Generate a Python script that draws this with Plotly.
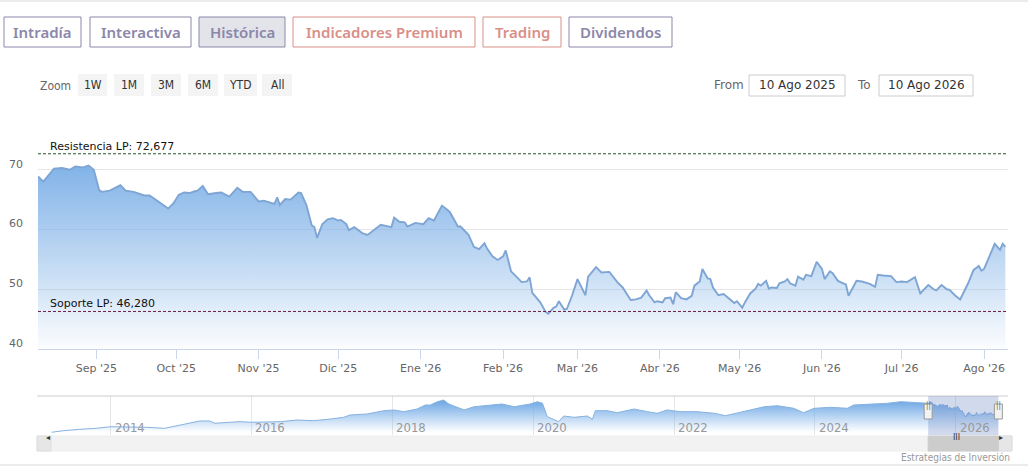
import plotly.graph_objects as go

# --- data --------------------------------------------------------------------
main_dates = ["2025-08-10", "2025-08-12", "2025-08-16", "2025-08-19", "2025-08-22", "2025-08-24", "2025-08-27", "2025-08-29", "2025-08-31",
              "2025-09-02", "2025-09-03", "2025-09-06", "2025-09-10", "2025-09-12", "2025-09-15", "2025-09-19", "2025-09-21", "2025-09-24", "2025-09-28", "2025-09-30",
              "2025-10-02", "2025-10-04", "2025-10-06", "2025-10-08", "2025-10-09", "2025-10-11", "2025-10-13", "2025-10-16", "2025-10-18", "2025-10-21", "2025-10-24", "2025-10-26", "2025-10-29",
              "2025-11-01", "2025-11-03", "2025-11-07", "2025-11-08", "2025-11-09", "2025-11-11", "2025-11-13", "2025-11-16", "2025-11-17", "2025-11-19", "2025-11-21", "2025-11-22", "2025-11-23", "2025-11-25", "2025-11-27", "2025-11-29",
              "2025-12-01", "2025-12-02", "2025-12-04", "2025-12-05", "2025-12-07", "2025-12-10", "2025-12-12", "2025-12-14", "2025-12-17", "2025-12-21", "2025-12-22", "2025-12-24", "2025-12-26", "2025-12-27", "2025-12-30",
              "2026-01-02", "2026-01-04", "2026-01-06", "2026-01-09", "2026-01-11", "2026-01-12", "2026-01-15", "2026-01-16", "2026-01-19", "2026-01-21", "2026-01-23", "2026-01-25", "2026-01-26", "2026-01-28", "2026-01-30",
              "2026-02-01", "2026-02-02", "2026-02-04", "2026-02-06", "2026-02-08", "2026-02-10", "2026-02-11", "2026-02-12", "2026-02-14", "2026-02-15", "2026-02-17", "2026-02-18", "2026-02-20", "2026-02-21", "2026-02-22", "2026-02-24", "2026-02-25", "2026-02-27",
              "2026-03-01", "2026-03-04", "2026-03-05", "2026-03-08", "2026-03-10", "2026-03-13", "2026-03-16", "2026-03-18", "2026-03-21", "2026-03-23", "2026-03-25", "2026-03-27", "2026-03-28", "2026-03-30", "2026-03-31",
              "2026-04-02", "2026-04-03", "2026-04-05", "2026-04-06", "2026-04-07", "2026-04-09", "2026-04-11", "2026-04-13", "2026-04-14", "2026-04-16", "2026-04-17", "2026-04-19", "2026-04-20", "2026-04-21", "2026-04-23", "2026-04-25", "2026-04-27", "2026-04-29", "2026-04-30",
              "2026-05-02", "2026-05-03", "2026-05-05", "2026-05-07", "2026-05-08", "2026-05-09", "2026-05-11", "2026-05-12", "2026-05-13", "2026-05-15", "2026-05-16", "2026-05-18", "2026-05-19", "2026-05-20", "2026-05-22", "2026-05-23", "2026-05-25", "2026-05-26", "2026-05-28", "2026-05-30",
              "2026-06-01", "2026-06-02", "2026-06-04", "2026-06-05", "2026-06-07", "2026-06-09", "2026-06-10", "2026-06-11", "2026-06-14", "2026-06-16", "2026-06-19", "2026-06-21", "2026-06-22", "2026-06-24", "2026-06-27", "2026-06-29",
              "2026-07-01", "2026-07-03", "2026-07-06", "2026-07-08", "2026-07-11", "2026-07-13", "2026-07-14", "2026-07-16", "2026-07-18", "2026-07-19", "2026-07-21", "2026-07-23", "2026-07-26", "2026-07-28", "2026-07-30", "2026-07-31",
              "2026-08-01", "2026-08-03", "2026-08-05", "2026-08-07", "2026-08-08", "2026-08-09"]
main_values = [68.9, 68.0, 70.2, 70.3, 70.0, 70.55, 70.4, 70.7, 70.0,
               66.6, 66.3, 66.5, 67.4, 66.5, 66.3, 65.7, 65.7, 64.8, 63.5, 64.4,
               65.8, 66.2, 66.1, 66.4, 66.5, 67.3, 65.9, 66.1, 66.2, 65.5, 67.0, 66.3, 66.3,
               64.7, 64.8, 64.3, 65.4, 64.1, 65.1, 65.0, 66.2, 66.1, 64.1, 60.7, 60.4, 58.6, 60.9, 61.7, 61.9,
               61.5, 61.6, 60.9, 59.9, 60.4, 59.4, 59.1, 59.8, 60.8, 60.4, 62.0, 61.3, 61.2, 60.5, 61.1,
               60.9, 61.9, 61.5, 64.0, 63.3, 62.9, 60.5, 60.5, 59.1, 57.1, 56.7, 57.7, 56.8, 55.5, 54.9,
               55.5, 56.5, 53.0, 52.1, 51.2, 51.3, 52.0, 49.4, 48.2, 47.8, 46.2, 45.9, 46.9, 47.1, 48.0, 46.6, 46.7, 49.0,
               51.7, 49.0, 52.1, 53.7, 52.8, 52.9, 51.2, 50.3, 48.2, 48.3, 48.6, 49.8, 49.0, 47.8, 48.0,
               47.8, 48.5, 48.6, 47.5, 49.5, 48.5, 48.3, 48.9, 50.6, 51.3, 53.4, 51.8, 51.7, 50.3, 49.0, 49.2, 48.5, 47.7, 48.0,
               46.9, 47.8, 49.3, 50.1, 50.9, 50.6, 51.4, 50.1, 50.3, 50.2, 51.0, 51.3, 51.7, 51.0, 50.6, 52.1, 51.6, 52.4, 52.2, 54.6,
               53.4, 51.7, 53.0, 52.7, 51.4, 51.0, 50.8, 48.9, 51.4, 51.3, 50.9, 50.4, 52.4, 52.3, 52.2, 51.2,
               51.3, 51.2, 52.0, 49.3, 50.7, 50.0, 49.8, 50.7, 50.0, 49.9, 49.0, 48.3, 51.0, 53.2, 53.9, 53.1,
               53.4, 55.5, 57.6, 56.6, 57.6, 57.1]

# long history shown in the navigator
hist_dates = ["2013-03-01", "2013-05-01", "2013-07-23", "2013-10-20", "2014-01-01", "2014-04-08", "2014-07-05", "2014-10-08", "2014-12-28",
              "2015-04-08", "2015-05-30", "2015-06-25", "2015-09-13", "2015-11-03", "2016-01-01", "2016-03-03", "2016-05-30", "2016-08-25", "2016-11-17",
              "2017-02-13", "2017-04-23", "2017-05-26", "2017-08-22", "2017-11-18", "2018-01-08", "2018-02-28", "2018-05-08", "2018-06-21", "2018-07-16",
              "2018-08-22", "2018-09-24", "2018-10-20", "2018-11-25", "2019-01-08", "2019-02-28", "2019-05-08", "2019-07-23", "2019-09-24", "2019-12-16",
              "2020-01-23", "2020-02-18", "2020-03-14", "2020-04-16", "2020-05-12", "2020-06-07", "2020-07-31", "2020-10-08", "2020-11-03", "2020-11-18",
              "2021-01-19", "2021-03-11", "2021-06-07", "2021-08-15", "2021-10-05", "2021-11-25", "2022-02-03", "2022-05-01", "2022-07-27", "2022-09-24",
              "2023-01-15", "2023-04-13", "2023-06-21", "2023-09-13", "2023-11-03", "2023-12-28", "2024-03-21", "2024-06-17", "2024-07-20", "2024-11-03",
              "2025-01-11", "2025-03-21", "2025-05-30", "2025-07-20"]
hist_values = [19.9, 22.6, 24.9, 26.6, 29.3, 29.3, 28.3, 26.6, 32.2,
               39.0, 39.0, 35.1, 36.8, 37.8, 36.8, 36.8, 37.8, 40.6, 39.5,
               42.3, 45.2, 49.1, 50.8, 56.4, 57.6, 54.7, 59.2, 66.0, 66.0,
               71.6, 74.5, 67.7, 63.1, 57.6, 63.1, 64.8, 67.7, 63.1, 67.7,
               71.6, 68.9, 46.2, 41.8, 37.8, 47.4, 45.2, 47.4, 41.8, 56.4,
               56.4, 53.0, 59.2, 54.7, 52.0, 57.6, 54.7, 54.7, 52.0, 47.9,
               56.4, 63.1, 64.8, 60.4, 53.0, 60.4, 62.1, 60.4, 66.0, 67.2,
               68.9, 71.6, 69.9, 69.9]

resistencia = 72.677
soporte = 46.280

month_ticks = ["2025-09-01", "2025-10-01", "2025-11-01", "2025-12-01", "2026-01-01", "2026-02-01",
               "2026-03-01", "2026-04-01", "2026-05-01", "2026-06-01", "2026-07-01", "2026-08-01"]
month_labels = ["Sep '25", "Oct '25", "Nov '25", "Dic '25", "Ene '26", "Feb '26",
                "Mar '26", "Abr '26", "May '26", "Jun '26", "Jul '26", "Ago '26"]
y_ticks = [40, 50, 60, 70, 80]
y_labels = ["40", "50", "60", "70", ""]
year_ticks = ["2014-01-01", "2016-01-01", "2018-01-01", "2020-01-01", "2022-01-01", "2024-01-01", "2026-01-01"]
year_labels = ["2014", "2016", "2018", "2020", "2022", "2024", "2026"]

tab_labels = ["Intradía", "Interactiva", "Histórica", "Indicadores Premium", "Trading", "Dividendos"]
zoom_labels = ["1W", "1M", "3M", "6M", "YTD", "All"]
date_from = "10 Ago 2025"
date_to = "10 Ago 2026"

# --- helpers: pixel -> paper ---------------------------------------------------
W, H = 1028, 467
def fx(p):
    return p / W
def fy(p):
    return 1 - p / H

BLUE = "rgba(122,174,230,0.95)"
FADE = "rgba(122,174,230,0.03)"
VERDANA = "DejaVu Sans, Verdana, sans-serif"
NARROW = "DejaVu Sans Condensed, Liberation Sans Narrow, Roboto Condensed, Arial Narrow, sans-serif"

fig = go.Figure()

# main area series
fig.add_trace(go.Scatter(
    x=main_dates, y=main_values, mode="lines", fill="tozeroy",
    line=dict(color="#7ea5d3", width=1.9),
    fillgradient=dict(type="vertical", colorscale=[[0, FADE], [1, BLUE]], start=40, stop=71),
    hoverinfo="skip", showlegend=False, xaxis="x", yaxis="y"))

# navigator series (full history)
fig.add_trace(go.Scatter(
    x=hist_dates + main_dates, y=hist_values + main_values, mode="lines", fill="tozeroy",
    line=dict(color="#86b2e0", width=1),
    fillgradient=dict(type="vertical", colorscale=[[0, "rgba(124,178,234,0.0)"], [1, "rgba(118,172,230,1)"]], start=20, stop=70),
    hoverinfo="skip", showlegend=False, xaxis="x2", yaxis="y2"))

shapes = []
annotations = []

# resistance / support lines
for val, col, txt in [(resistencia, "#24542a", "Resistencia LP: 72,677"), (soporte, "#6e1f42", "Soporte LP: 46,280")]:
    shapes.append(dict(type="line", xref="x domain", yref="y", x0=0, x1=1, y0=val, y1=val,
                       line=dict(color=col, width=1, dash="3px,2px")))
    annotations.append(dict(xref="paper", yref="y", x=fx(48), y=val, text=txt, showarrow=False,
                            xanchor="left", yanchor="bottom", yshift=-1,
                            font=dict(family=VERDANA, size=11, color="#111")))

# top tabs
tab_pos = [(4, 81), (90, 191), (199, 285), (293, 475), (483, 561), (569, 672)]
tab_col = ["#8b87aa", "#8b87aa", "#8b87aa", "#d98f88", "#d98f88", "#8b87aa"]
for lab, (x0, x1), col in zip(tab_labels, tab_pos, tab_col):
    bg = "#e3e3ea" if lab == "Histórica" else "white"
    shapes.append(dict(type="rect", xref="paper", yref="paper", x0=fx(x0), x1=fx(x1), y0=fy(47), y1=fy(17),
                       line=dict(color=col, width=1), fillcolor=bg, layer="below"))
    annotations.append(dict(xref="paper", yref="paper", x=fx((x0 + x1) / 2), y=fy(32), text=lab, showarrow=False,
                            xanchor="center", yanchor="middle",
                            font=dict(family="Noto Sans, Open Sans, sans-serif", size=15, color=col, weight=600)))

# range selector row
annotations.append(dict(xref="paper", yref="paper", x=fx(38), y=fy(86), text="Zoom", showarrow=False,
                        xanchor="left", yanchor="middle", font=dict(family=NARROW, size=12, color="#666")))
zoom_pos = [(78, 107), (114, 144), (151, 181), (188, 218), (224, 257), (262, 292)]
for lab, (x0, x1) in zip(zoom_labels, zoom_pos):
    shapes.append(dict(type="rect", xref="paper", yref="paper", x0=fx(x0), x1=fx(x1), y0=fy(96), y1=fy(74),
                       line=dict(width=0), fillcolor="#f4f4f4", layer="below"))
    annotations.append(dict(xref="paper", yref="paper", x=fx((x0 + x1) / 2), y=fy(85), text=lab, showarrow=False,
                            xanchor="center", yanchor="middle", font=dict(family=NARROW, size=12, color="#333")))

# from / to inputs
annotations.append(dict(xref="paper", yref="paper", x=fx(712), y=fy(85), text="From", showarrow=False,
                        xanchor="left", yanchor="middle", font=dict(family=VERDANA, size=12, color="#666")))
annotations.append(dict(xref="paper", yref="paper", x=fx(855), y=fy(85), text="To", showarrow=False,
                        xanchor="left", yanchor="middle", font=dict(family=VERDANA, size=12, color="#666")))
for txt, (x0, x1) in [(date_from, (749, 845)), (date_to, (879, 973))]:
    shapes.append(dict(type="rect", xref="paper", yref="paper", x0=fx(x0), x1=fx(x1), y0=fy(96), y1=fy(75),
                       line=dict(color="#cccccc", width=1), fillcolor="white", layer="below"))
    annotations.append(dict(xref="paper", yref="paper", x=fx((x0 + x1) / 2), y=fy(85), text=txt, showarrow=False,
                            xanchor="center", yanchor="middle", font=dict(family=VERDANA, size=12, color="#333")))

# page separator lines
shapes.append(dict(type="line", xref="paper", yref="paper", x0=0, x1=1, y0=fy(1), y1=fy(1),
                   line=dict(color="#d8d8d8", width=1)))
shapes.append(dict(type="line", xref="paper", yref="paper", x0=0, x1=1, y0=fy(465), y1=fy(465),
                   line=dict(color="#d8d8d8", width=1)))

# navigator outline + selected window mask
shapes.append(dict(type="line", xref="paper", yref="paper", x0=fx(37), x1=fx(1008), y0=fy(396), y1=fy(396),
                   line=dict(color="#cccccc", width=1)))
shapes.append(dict(type="rect", xref="x2", yref="paper", x0=main_dates[0], x1=main_dates[-1], y0=fy(435), y1=fy(396),
                   line=dict(width=0), fillcolor="rgba(102,133,194,0.3)"))

# scrollbar
shapes.append(dict(type="rect", xref="paper", yref="paper", x0=fx(37), x1=fx(1012), y0=fy(451), y1=fy(436),
                   line=dict(color="#eeeeee", width=1), fillcolor="#f2f2f2", layer="below"))
shapes.append(dict(type="rect", xref="paper", yref="paper", x0=fx(37), x1=fx(51), y0=fy(451), y1=fy(436),
                   line=dict(color="#dddddd", width=1), fillcolor="#e6e6e6"))
shapes.append(dict(type="rect", xref="paper", yref="paper", x0=fx(998), x1=fx(1012), y0=fy(451), y1=fy(436),
                   line=dict(color="#dddddd", width=1), fillcolor="#e6e6e6"))
shapes.append(dict(type="rect", xref="x2", yref="paper", x0=main_dates[0], x1=main_dates[-1], y0=fy(451), y1=fy(436),
                   line=dict(color="#cccccc", width=1), fillcolor="#cccccc"))
annotations.append(dict(xref="paper", yref="paper", x=fx(44), y=fy(443.5), text="◂", showarrow=False,
                        font=dict(family=VERDANA, size=8, color="#333")))
annotations.append(dict(xref="paper", yref="paper", x=fx(1005), y=fy(443.5), text="▸", showarrow=False,
                        font=dict(family=VERDANA, size=8, color="#333")))
annotations.append(dict(xref="paper", yref="paper", x=fx(962), y=fy(443.5), text="III", showarrow=False,
                        font=dict(family=VERDANA, size=8, color="#333")))

# navigator handles
for d in [main_dates[0], main_dates[-1]]:
    shapes.append(dict(type="rect", xref="x2", yref="paper", xsizemode="pixel", xanchor=d, x0=-4, x1=4,
                       y0=fy(419), y1=fy(404), line=dict(color="#999999", width=1), fillcolor="#f2f2f2"))
    annotations.append(dict(xref="x2", yref="paper", x=d, y=fy(411.5), text="||", showarrow=False,
                            font=dict(family=NARROW, size=8, color="#666")))

# navigator year labels
for d, lab in zip(year_ticks, year_labels):
    annotations.append(dict(xref="x2", yref="paper", x=d, y=fy(427), text=lab, showarrow=False,
                            xanchor="left", yanchor="middle", xshift=2,
                            font=dict(family=NARROW, size=13, color="#999")))

# credits
annotations.append(dict(xref="paper", yref="paper", x=fx(1012), y=fy(457), text="Estrategias de Inversión",
                        showarrow=False, xanchor="right", yanchor="middle",
                        font=dict(family=NARROW, size=10, color="#999")))

fig.update_layout(
    width=W, height=H,
    margin=dict(l=0, r=0, t=0, b=0),
    paper_bgcolor="white", plot_bgcolor="white",
    showlegend=False,
    xaxis=dict(domain=[fx(38), fx(1008)], range=["2025-08-10", "2026-08-10"], anchor="y",
               tickvals=month_ticks, ticktext=month_labels, ticks="outside", ticklen=9, tickcolor="#ccd6eb",
               showline=True, linecolor="#ccd6eb", showgrid=False, zeroline=False,
               tickfont=dict(family=VERDANA, size=11, color="#666")),
    yaxis=dict(domain=[fy(349), fy(110)], range=[40, 80], anchor="x",
               tickvals=y_ticks, ticktext=y_labels, showgrid=True, gridcolor="#e6e6e6",
               zeroline=False, showline=False, ticklabelstandoff=14, ticklabelshift=-6,
               tickfont=dict(family=VERDANA, size=11, color="#666")),
    xaxis2=dict(domain=[fx(38), fx(1008)], range=["2012-12-20", "2026-09-28"], anchor="y2",
                tickvals=year_ticks, showticklabels=False, showgrid=True, gridcolor="#e6e6e6",
                zeroline=False, showline=False, ticks=""),
    yaxis2=dict(domain=[fy(435), fy(396)], range=[15.3, 81.2], anchor="x2", visible=False),
    shapes=shapes,
    annotations=annotations,
)

# the page body has a default 8px margin; drop it so the figure sits at 0,0
fig.write_html("out.html", config={"displayModeBar": False},
               post_script="document.body.style.margin='0px';")
